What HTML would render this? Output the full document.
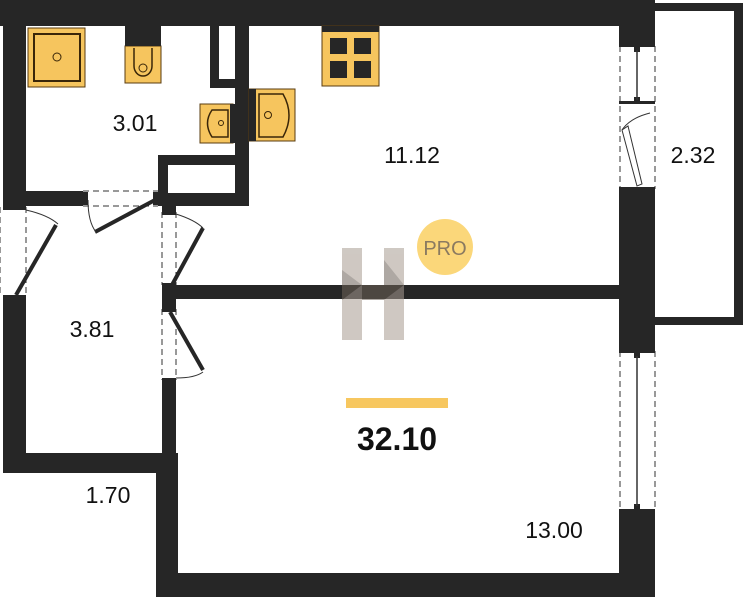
<!DOCTYPE html>
<html><head><meta charset="utf-8"><style>
html,body{margin:0;padding:0;background:#fff;}
svg{display:block;}
text{font-family:"Liberation Sans",sans-serif;fill:#111;}
</style></head><body>
<svg width="745" height="600" viewBox="0 0 745 600" xmlns="http://www.w3.org/2000/svg">
<rect width="745" height="600" fill="#fff"/>
<g fill="#262626">
<!-- top wall -->
<rect x="0" y="0" width="655" height="26"/>
<!-- left wall -->
<rect x="3" y="0" width="23" height="207"/>
<rect x="3" y="297" width="23" height="176"/>
<!-- bathroom bottom wall -->
<rect x="3" y="191" width="80" height="15"/>
<rect x="158" y="155" width="91" height="51"/>
<!-- shaft -->
<rect x="210" y="26" width="9" height="62"/>
<rect x="210" y="79" width="39" height="9"/>
<rect x="235" y="26" width="14" height="180"/>
<!-- hallway right wall -->
<rect x="162" y="206" width="14" height="6"/>
<rect x="162" y="285" width="14" height="24"/>
<rect x="162" y="380" width="14" height="93"/>
<!-- hallway bottom -->
<rect x="3" y="453" width="173" height="20"/>
<!-- 13.00 left wall -->
<rect x="156" y="453" width="22" height="144"/>
<!-- bottom wall -->
<rect x="156" y="573" width="499" height="24"/>
<!-- middle horizontal wall -->
<rect x="170" y="285" width="450" height="14"/>
<!-- right wall -->
<rect x="619" y="0" width="36" height="46"/>
<rect x="619" y="189" width="36" height="162"/>
<rect x="619" y="511" width="36" height="86"/>
</g>
<!-- white interiors for closet -->
<rect x="168" y="165" width="67" height="28" fill="#fff"/>
<rect x="219" y="26" width="16" height="53" fill="#fff"/>
<!-- balcony -->
<path d="M655 3 H743 V325 H655 V317 H734 V11 H655 Z" fill="#262626"/>
<!-- windows right -->
<g stroke="#333" stroke-width="1" stroke-dasharray="6,4" fill="none">
<line x1="620" y1="46" x2="620" y2="189"/><line x1="655" y1="46" x2="655" y2="189"/>
<line x1="620" y1="351" x2="620" y2="511"/><line x1="655" y1="351" x2="655" y2="511"/>
<line x1="0" y1="207" x2="0" y2="297"/><line x1="26" y1="207" x2="26" y2="297"/>
<line x1="162" y1="212" x2="162" y2="285"/><line x1="176" y1="212" x2="176" y2="285"/>
<line x1="162" y1="309" x2="162" y2="380"/><line x1="176" y1="309" x2="176" y2="380"/>
<line x1="83" y1="191" x2="158" y2="191"/><line x1="83" y1="206" x2="158" y2="206"/>
</g>
<g fill="#262626">
<rect x="619" y="44" width="36" height="3"/><rect x="619" y="101" width="36" height="3"/>
<rect x="619" y="187" width="36" height="3"/><rect x="619" y="349" width="36" height="4"/><rect x="619" y="509" width="36" height="4"/>
<rect x="634" y="47" width="6" height="5"/><rect x="634" y="97" width="6" height="5"/>
<rect x="634" y="353" width="6" height="5"/><rect x="634" y="504" width="6" height="5"/>
</g>
<line x1="637" y1="50" x2="637" y2="100" stroke="#333" stroke-width="1.5"/>
<line x1="637" y1="356" x2="637" y2="506" stroke="#333" stroke-width="1.5"/>
<path d="M622 130 L628 126 L642 184 L637 186 Z" fill="#fff" stroke="#333" stroke-width="1"/>
<path d="M622 130 Q630 118 650 113" fill="none" stroke="#333" stroke-width="1"/>
<!-- doors -->
<g stroke="#262626" stroke-width="4" fill="none">
<line x1="16" y1="295" x2="56" y2="225"/>
<line x1="95" y1="232" x2="155" y2="200"/>
<line x1="172" y1="285" x2="203" y2="228"/>
<line x1="170" y1="312" x2="203" y2="370"/>
</g>
<g stroke="#333" stroke-width="1" fill="none">
<path d="M26 210 Q48 215 58 224"/>
<path d="M88 200 Q88 222 96 232"/>
<path d="M176 214 Q195 220 203 228"/>
<path d="M176 378 Q195 378 203 372"/>
</g>
<g fill="#262626">
<rect x="3" y="205" width="23" height="5"/><rect x="3" y="295" width="23" height="5"/>
<rect x="82" y="192" width="6" height="13"/><rect x="153" y="192" width="6" height="13"/>
<rect x="162" y="210" width="14" height="5"/><rect x="162" y="283" width="14" height="5"/>
<rect x="162" y="307" width="14" height="5"/><rect x="162" y="378" width="14" height="5"/>
</g>
<!-- fixtures -->
<g stroke="#5a3c10" stroke-width="1" fill="#f6c55e">
<rect x="28" y="28" width="57" height="59"/>
<rect x="125" y="46" width="36" height="37"/>
<rect x="200" y="104" width="33" height="39"/>
<rect x="249" y="89" width="46" height="52"/>
<rect x="322" y="26" width="57" height="60"/>
</g>
<rect x="34" y="34" width="46" height="47" fill="none" stroke="#3a2608" stroke-width="2"/>
<circle cx="57" cy="57" r="4" fill="none" stroke="#3a2608" stroke-width="1"/>
<rect x="125" y="26" width="36" height="20" fill="#262626"/>
<path d="M134 48 V66 A9 10 0 0 0 152 66 V48" fill="none" stroke="#3a2608" stroke-width="1.5"/>
<circle cx="143" cy="68" r="4" fill="none" stroke="#3a2608" stroke-width="1"/>
<rect x="230" y="104" width="5" height="39" fill="#262626"/>
<path d="M228 110 H212 Q203 123 212 137 H228 Z" fill="none" stroke="#3a2608" stroke-width="1.5"/>
<circle cx="221" cy="123" r="2.5" fill="none" stroke="#3a2608" stroke-width="1"/>
<rect x="249" y="89" width="7" height="52" fill="#262626"/>
<path d="M259 94 H283 Q295 115 283 137 H259 Z" fill="none" stroke="#3a2608" stroke-width="1.5"/>
<circle cx="268" cy="115" r="3.5" fill="none" stroke="#3a2608" stroke-width="1"/>
<rect x="322" y="26" width="57" height="6" fill="#262626"/>
<g fill="#262626">
<rect x="330" y="38" width="17" height="16"/><rect x="354" y="38" width="17" height="16"/>
<rect x="330" y="61" width="17" height="17"/><rect x="354" y="61" width="17" height="17"/>
</g>
<!-- H logo -->
<g opacity="0.55">
<rect x="342" y="248" width="20" height="92" fill="#a89c92"/>
<rect x="384" y="248" width="20" height="92" fill="#a89c92"/>
<polygon points="342,270 362,285 342,300" fill="#6d6258"/>
<polygon points="384,260 404,285 384,300" fill="#6d6258"/>
<rect x="362" y="285" width="22" height="15" fill="#6d6258"/>
</g>
<!-- PRO -->
<circle cx="445" cy="247" r="28" fill="#fbd77a"/>
<text x="445" y="255" font-size="20" text-anchor="middle" style="fill:#8a7a60">PRO</text>
<!-- total -->
<rect x="346" y="398" width="102" height="10" fill="#f7c75f"/>
<text x="397" y="450" font-size="32" font-weight="bold" text-anchor="middle">32.10</text>
<!-- labels -->
<g font-size="23" text-anchor="middle">
<text x="135" y="131">3.01</text>
<text x="412" y="163">11.12</text>
<text x="693" y="163">2.32</text>
<text x="92" y="337">3.81</text>
<text x="108" y="503">1.70</text>
<text x="554" y="538">13.00</text>
</g>
</svg>
</body></html>
